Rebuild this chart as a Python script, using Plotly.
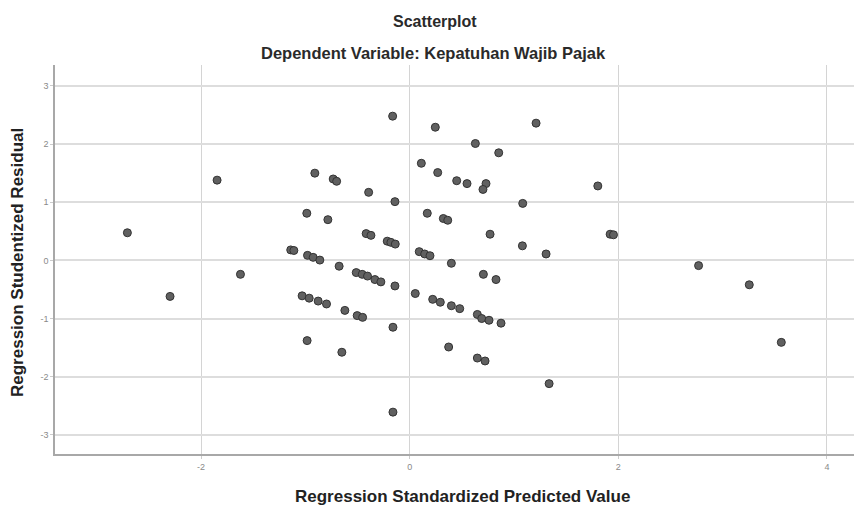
import plotly.graph_objects as go

pred_x = [
    -1.846, -2.706, -1.14, -1.11, -1.622, -2.297,
    -0.163, 0.246, 1.212, 0.63, 0.854, 0.112, -0.909, 0.269, -0.733, -0.70,
    0.451, 0.55, 0.732, 0.703, -0.393, -0.141, 1.084, -0.986, 0.169, -0.784,
    0.323, 0.365, 0.771, -0.417, -0.371, -0.215, -0.18, -0.138, 1.081, 1.308,
    -0.979, -0.925, -0.861, 0.092, 0.144, 0.195, 0.40, -0.676,
    -0.512, -0.455, -0.404, -0.333, -0.276, -0.141, 0.707, 0.828, 0.054,
    -1.031, -0.963, -0.877, -0.797, -0.621, -0.503, -0.451, 0.221, 0.294,
    0.40, 0.48, 0.649, 0.691, 0.761, 0.876, -0.160, -0.983, -0.650, 0.374,
    0.649, 0.723, 1.337, -0.160, 1.804, 1.922, 1.954, 2.77, 3.256, 3.563,
]
resid_y = [
    1.38, 0.475, 0.18, 0.17, -0.24, -0.62,
    2.48, 2.29, 2.36, 2.01, 1.85, 1.67, 1.50, 1.51, 1.40, 1.36,
    1.37, 1.32, 1.32, 1.22, 1.17, 1.01, 0.98, 0.81, 0.81, 0.70,
    0.72, 0.69, 0.45, 0.46, 0.43, 0.33, 0.31, 0.28, 0.25, 0.11,
    0.086, 0.052, 0.005, 0.15, 0.11, 0.08, -0.05, -0.10,
    -0.21, -0.24, -0.27, -0.33, -0.37, -0.44, -0.24, -0.33, -0.57,
    -0.61, -0.65, -0.70, -0.75, -0.86, -0.95, -0.98, -0.67, -0.72,
    -0.78, -0.83, -0.93, -1.00, -1.03, -1.08, -1.15, -1.38, -1.58, -1.49,
    -1.68, -1.73, -2.12, -2.61, 1.28, 0.45, 0.44, -0.09, -0.42, -1.41,
]
x_ticks = [-2, 0, 2, 4]
y_ticks = [-3, -2, -1, 0, 1, 2, 3]

FONT = "Liberation Sans, Arial, sans-serif"
W, H = 857, 506
ML, MR, MT, MB = 55, 3, 65, 52
plot_h = H - MT - MB
plot_w = W - ML - MR


def py(pix):
    return (H - MB - pix) / plot_h


def px(pix):
    return (pix - ML) / plot_w


fig = go.Figure()
fig.add_trace(go.Scatter(
    x=pred_x, y=resid_y, mode="markers",
    marker=dict(size=8, color="#606060", line=dict(color="#333333", width=1)),
    showlegend=False,
))

title_font = dict(size=16, color="#2a2a2a", family=FONT)
sub_font = dict(size=16.5, color="#2a2a2a", family=FONT)
axis_font = dict(size=17, color="#222222", family=FONT)

fig.update_layout(
    width=W, height=H,
    margin=dict(l=ML, r=MR, t=MT, b=MB, autoexpand=False),
    paper_bgcolor="white", plot_bgcolor="white",
    font=dict(family=FONT),
    xaxis=dict(
        range=[-3.40, 4.26], tickvals=x_ticks, ticktext=[str(v) for v in x_ticks],
        showgrid=True, gridcolor="#d4d4d4", gridwidth=1,
        zeroline=False, showline=True, linecolor="#a8a8a8", linewidth=1.5,
        ticks="outside", ticklen=3, tickcolor="#cccccc",
        tickfont=dict(size=9, color="#8a8a8a", family=FONT),
    ),
    yaxis=dict(
        range=[-3.33, 3.36], tickvals=y_ticks, ticktext=[str(v) for v in y_ticks],
        showgrid=True, gridcolor="#dddddd", gridwidth=1.5,
        zeroline=False, showline=True, linecolor="#a8a8a8", linewidth=1.5,
        ticks="outside", ticklen=3, tickcolor="#cccccc",
        tickfont=dict(size=9, color="#8a8a8a", family=FONT),
    ),
    annotations=[
        dict(text="<b>Scatterplot</b>", x=px(435), y=py(21), xref="paper", yref="paper",
             xanchor="center", yanchor="middle", showarrow=False, font=title_font),
        dict(text="<b>Dependent Variable: Kepatuhan Wajib Pajak</b>", x=px(433), y=py(53),
             xref="paper", yref="paper", xanchor="center", yanchor="middle",
             showarrow=False, font=sub_font),
        dict(text="<b>Regression Standardized Predicted Value</b>", x=px(462), y=py(496),
             xref="paper", yref="paper", xanchor="center", yanchor="middle",
             showarrow=False, font=axis_font),
        dict(text="<b>Regression Studentized Residual</b>", x=px(17), y=py(263),
             xref="paper", yref="paper", xanchor="center", yanchor="middle",
             showarrow=False, textangle=-90, font=axis_font),
    ],
)

fig.write_html("out.html", config={"displayModeBar": False})

with open("out.html", "r", encoding="utf-8") as f:
    html = f.read()
html = html.replace("<head>", "<head><style>html,body{margin:0;padding:0;overflow:hidden;}</style>", 1)
with open("out.html", "w", encoding="utf-8") as f:
    f.write(html)
